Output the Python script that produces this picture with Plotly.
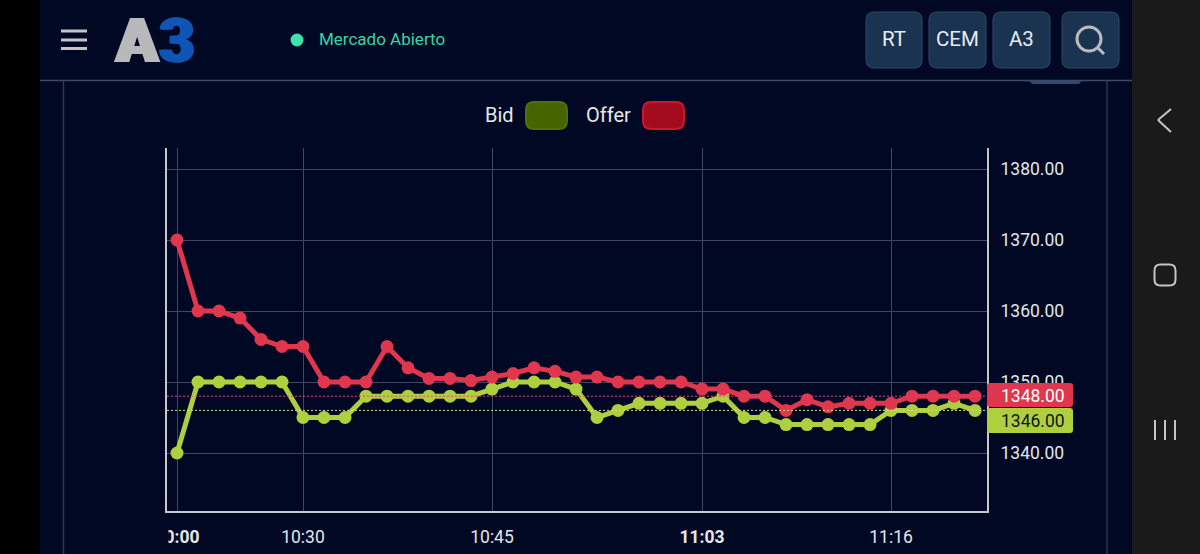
import plotly.graph_objects as go

# values
points = list(range(39))
offer = [1370, 1360, 1360, 1359, 1356, 1355, 1355, 1350, 1350, 1350,
         1355, 1352, 1350.5, 1350.5, 1350.2, 1350.7, 1351.2, 1352, 1351.5, 1350.7,
         1350.7, 1350, 1350, 1350, 1350, 1349, 1349, 1348, 1348, 1346,
         1347.5, 1346.5, 1347, 1347, 1347, 1348, 1348, 1348, 1348]
bid = [1340, 1350, 1350, 1350, 1350, 1350, 1345, 1345, 1345, 1348,
       1348, 1348, 1348, 1348, 1348, 1349, 1350, 1350, 1350, 1349,
       1345, 1346, 1347, 1347, 1347, 1347, 1348, 1345, 1345, 1344,
       1344, 1344, 1344, 1344, 1346, 1346, 1346, 1347, 1346]
tick_points = [0, 6, 15, 25, 34]
tick_labels = ["<b>10:00</b>", "10:30", "10:45", "<b>11:03</b>", "11:16"]
price_ticks = [1340, 1350, 1360, 1370, 1380]

W, H = 1200, 554
FONT = "Roboto"
BG = "#000823"
RED = "#e0364e"
GREEN = "#aed03f"
GRID = "#3d4866"
BTN = "#1a3350"
BTN_LINE = "#33496a"


def px(x):
    return x / W


def py(y):
    return 1 - y / H


def rect(x0, y0, x1, y1, fill, line=None, width=1):
    return dict(type="rect", xref="paper", yref="paper", layer="above",
                x0=px(x0), x1=px(x1), y0=py(y0), y1=py(y1), fillcolor=fill,
                line=dict(color=line or fill, width=width if line else 0))


def segment(x0, y0, x1, y1, color, width=2):
    return dict(type="line", xref="paper", yref="paper", layer="above",
                x0=px(x0), x1=px(x1), y0=py(y0), y1=py(y1),
                line=dict(color=color, width=width))


def rounded(x0, y0, x1, y1, r, fill, line=None, width=1):
    corners = [
        ((x1 - r, y0), (x1, y0), (x1, y0 + r)),
        ((x1, y1 - r), (x1, y1), (x1 - r, y1)),
        ((x0 + r, y1), (x0, y1), (x0, y1 - r)),
        ((x0, y0 + r), (x0, y0), (x0 + r, y0)),
    ]
    d = "M%f,%f" % (px(x0 + r), py(y0))
    for start, ctrl, end in corners:
        d += " L%f,%f" % (px(start[0]), py(start[1]))
        d += " Q%f,%f %f,%f" % (px(ctrl[0]), py(ctrl[1]), px(end[0]), py(end[1]))
    d += " Z"
    return dict(type="path", xref="paper", yref="paper", layer="above", path=d, fillcolor=fill,
                line=dict(color=line or fill, width=width if line else 0))


def circle(cx, cy, r, fill, line=None, width=1):
    s = rect(cx - r, cy - r, cx + r, cy + r, fill, line, width)
    s["type"] = "circle"
    return s


def label(x, y, text, size, color, anchor="center", **extra):
    font = dict(family=FONT, size=size, color=color, **extra)
    return dict(xref="paper", yref="paper", x=px(x), y=py(y), text=text, showarrow=False,
                xanchor=anchor, yanchor="middle", font=font)


fig = go.Figure()
fig.add_trace(go.Scatter(x=points, y=bid, mode="lines+markers", name="Bid",
                         line=dict(color=GREEN, width=5), marker=dict(color=GREEN, size=13)))
fig.add_trace(go.Scatter(x=points, y=offer, mode="lines+markers", name="Offer",
                         line=dict(color=RED, width=5), marker=dict(color=RED, size=13)))

shapes = [
    # last value lines
    dict(type="line", xref="x domain", yref="y", x0=0, x1=1, y0=offer[-1], y1=offer[-1], layer="above",
         line=dict(color="#d84a80", width=1, dash="2px,2px")),
    dict(type="line", xref="x domain", yref="y", x0=0, x1=1, y0=bid[-1], y1=bid[-1], layer="above",
         line=dict(color="#d8de80", width=1, dash="2px,2px")),
    # side bars of the phone screen
    rect(0, 0, 40, H, "#000000"),
    rect(1132, 0, W, H, "#1a1a1a"),
    # hides the left part of the first time label
    rect(130, 513, 168.5, 550, BG),
    segment(40, 80.5, 1132, 80.5, "#3c4a6a", 1.5),
    segment(63.5, 81, 63.5, H, "#2c3552", 1.5),
    segment(1107, 81, 1107, H, "#2c3552", 1.5),
    rounded(1030, 76, 1081, 84, 4, BTN_LINE),
    rect(1025, 74, 1086, 80, BG),
    segment(1025, 80.5, 1086, 80.5, "#3c4a6a", 1.5),
    # hamburger
    segment(61, 31, 87, 31, "#c4c4c8", 3),
    segment(61, 40, 87, 40, "#c4c4c8", 3),
    segment(61, 48.5, 87, 48.5, "#c4c4c8", 3),
    circle(297, 40, 6.5, "#3de3ab"),
    # buttons
    rounded(866, 12, 922, 68, 8, BTN, BTN_LINE),
    rounded(929, 12, 986, 68, 8, BTN, BTN_LINE),
    rounded(993, 12, 1050, 68, 8, BTN, BTN_LINE),
    rounded(1062, 12, 1119, 68, 8, BTN, BTN_LINE),
    circle(1089, 39, 12, "rgba(0,0,0,0)", "#b8bcc0", 3),
    segment(1098, 48, 1104, 54, "#b8bcc0", 3),
    # legend swatches
    rounded(526, 102, 567, 129, 8, "#466400", "#4f7008", 2),
    rounded(643, 102, 684, 129, 8, "#a30c1e", "#cc1730", 2),
    # last value tags
    rounded(987, 383, 1073, 407, 3, RED),
    rounded(987, 408, 1073, 433, 3, GREEN),
    # android nav
    segment(1171, 109, 1158, 120, "#c4c4c4", 2),
    segment(1158, 120, 1171, 132, "#c4c4c4", 2),
    rounded(1154.5, 264.5, 1175.5, 285.5, 6, "rgba(0,0,0,0)", "#c4c4c4", 2),
    segment(1155, 420, 1155, 440, "#c4c4c4", 2),
    segment(1165, 420, 1165, 440, "#c4c4c4", 2),
    segment(1175, 420, 1175, 440, "#c4c4c4", 2),
]

annotations = [
    label(137, 40, "A", 62, "#b9b9bb", weight=900, shadow="2px 0 #b9b9bb, -2px 0 #b9b9bb"),
    label(177, 40, "3", 62, "#0f55b5", weight=900, shadow="1.5px 0 #0f55b5, -1.5px 0 #0f55b5"),
    label(317, 39, "Mercado Abierto", 17, "#35d6a5", "left"),
    label(894, 39, "RT", 20.5, "#e8ecf0"),
    label(957.5, 39, "CEM", 20.5, "#e8ecf0"),
    label(1021, 39, "A3", 20.5, "#e8ecf0"),
    label(499.5, 115, "Bid", 20, "#e8e8ec"),
    label(608.5, 115, "Offer", 20, "#e8e8ec"),
    label(1033, 396, "%.2f" % offer[-1], 17.5, "#ffffff"),
    label(1033, 421, "%.2f" % bid[-1], 17.5, "#10141c"),
]

fig.update_layout(
    width=W, height=H, margin=dict(l=0, r=0, t=0, b=0),
    paper_bgcolor=BG, plot_bgcolor=BG, showlegend=False,
    shapes=shapes, annotations=annotations,
    xaxis=dict(domain=[px(167), px(987)], range=[-0.476, 38.57], automargin=False,
               tickvals=tick_points, ticktext=tick_labels,
               showgrid=True, gridcolor=GRID, gridwidth=1.2, zeroline=False,
               showline=True, linecolor="#c8c8cc", linewidth=2,
               ticks="", ticklabelstandoff=9,
               tickfont=dict(family=FONT, size=17.5, color="#e4e6ea")),
    yaxis=dict(domain=[py(511), py(148)], range=[1331.83, 1382.96], side="right", automargin=False,
               tickvals=price_ticks, tickformat=".2f",
               showgrid=True, gridcolor=GRID, gridwidth=1.2, zeroline=False,
               showline=True, linecolor="#c8c8cc", linewidth=2, mirror=True,
               ticks="", ticklabelstandoff=8,
               tickfont=dict(family=FONT, size=17.5, color="#e4e6ea")),
)

fig.write_html("out.html", config=dict(displayModeBar=False),
               post_script="document.body.style.margin='0';document.body.style.overflow='hidden';")
